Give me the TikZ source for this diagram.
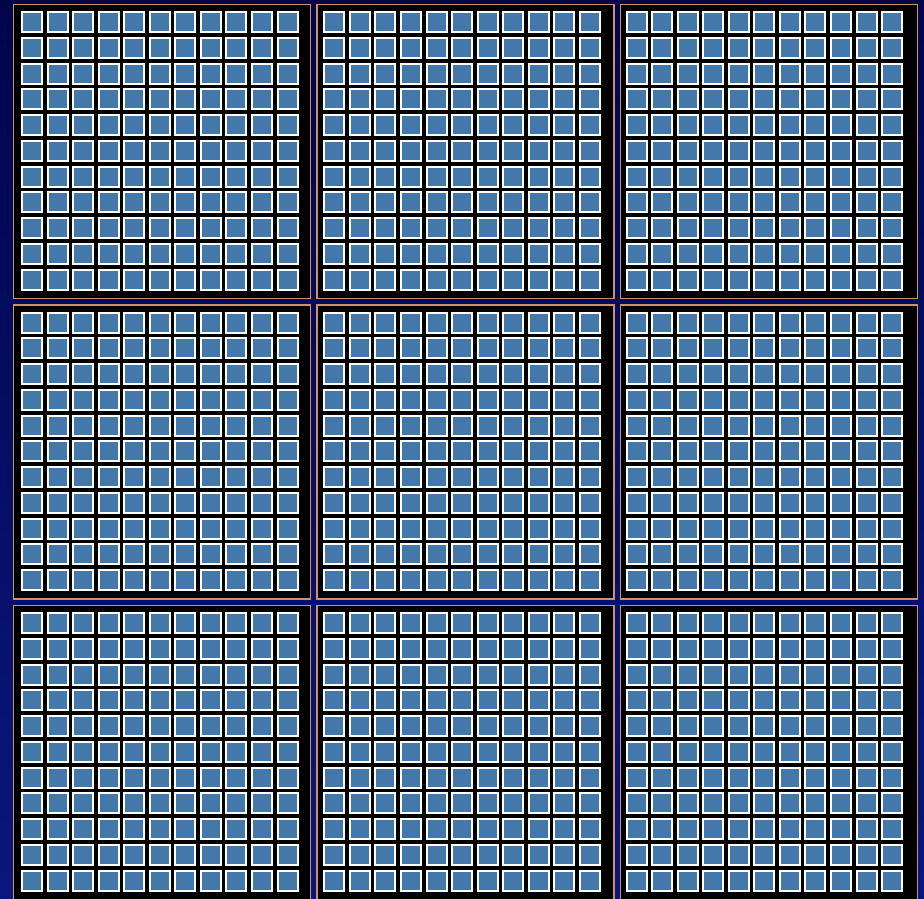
\documentclass[tikz,border=0pt]{standalone}
\definecolor{bgtop}{RGB}{0,5,75}
\definecolor{bgbot}{RGB}{10,22,125}
\definecolor{cellblue}{RGB}{68,120,170}
\definecolor{rim}{RGB}{205,145,105}
\tikzset{
  panelbox/.style={fill=black, draw=rim, line width=1.3pt},
  cellbox/.style={fill=cellblue, draw=white, line width=2pt},
}
\begin{document}
\begin{tikzpicture}[x=1pt,y=-1pt]
\useasboundingbox (0,0) rectangle (924,898);
\shade[top color=bgtop, bottom color=bgbot] (0,0) rectangle (924,898);
\begin{scope}
\clip (0,0) rectangle (924,898);
\foreach \i in {0,1,2}{
  \foreach \j in {0,1,2}{
    \pgfmathsetmacro{\px}{13.5+\i*303.6}
    \pgfmathsetmacro{\py}{4.5+\j*300.5}
    \pgfmathsetmacro{\ox}{8.5-\i*1.3}
    \draw[panelbox] (\px,\py) rectangle ++(297,294);
    \foreach \k in {0,...,10}{
      \foreach \l in {0,...,10}{
        \draw[cellbox] (\px+\ox+\k*25.55,\py+7.5+\l*25.75) rectangle ++(20,20);
      }
    }
  }
}
\end{scope}
\end{tikzpicture}
\end{document}
